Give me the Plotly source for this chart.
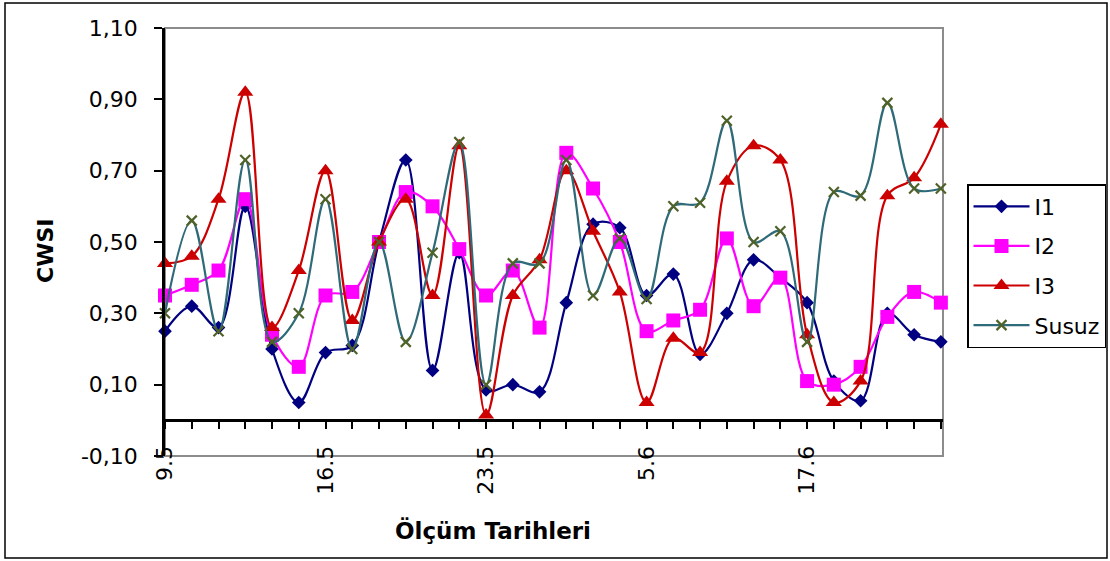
import plotly.graph_objects as go

# Measurement dates (category axis); only every sixth date is labelled
date_labels = ["9.5", "16.5", "23.5", "5.6", "17.6"]
label_positions = [0, 6, 12, 18, 24]
n_points = 30
x_idx = list(range(n_points))

i1 = [0.25, 0.32, 0.26, 0.60, 0.20, 0.05, 0.19, 0.21, 0.50, 0.73,
      0.14, 0.47, 0.085, 0.10, 0.08, 0.33, 0.55, 0.54, 0.35, 0.41,
      0.185, 0.30, 0.45, 0.40, 0.33, 0.11, 0.055, 0.30, 0.24, 0.22]
i2 = [0.35, 0.38, 0.42, 0.62, 0.24, 0.15, 0.35, 0.36, 0.50, 0.64,
      0.60, 0.48, 0.35, 0.42, 0.26, 0.75, 0.65, 0.50, 0.25, 0.28,
      0.31, 0.51, 0.32, 0.40, 0.11, 0.10, 0.15, 0.29, 0.36, 0.33]
i3 = [0.44, 0.46, 0.62, 0.92, 0.26, 0.42, 0.70, 0.28, 0.50, 0.62,
      0.35, 0.77, 0.015, 0.35, 0.45, 0.70, 0.53, 0.36, 0.05, 0.23,
      0.19, 0.67, 0.77, 0.73, 0.24, 0.05, 0.11, 0.63, 0.68, 0.83]
susuz = [0.30, 0.56, 0.25, 0.73, 0.22, 0.30, 0.62, 0.20, 0.50, 0.22,
         0.47, 0.78, 0.10, 0.44, 0.44, 0.73, 0.35, 0.51, 0.34, 0.60,
         0.61, 0.84, 0.50, 0.53, 0.22, 0.64, 0.63, 0.89, 0.65, 0.65]

y_tick_values = [-0.10, 0.10, 0.30, 0.50, 0.70, 0.90, 1.10]
y_tick_labels = ["-0,10", "0,10", "0,30", "0,50", "0,70", "0,90", "1,10"]

FONT = "DejaVu Sans, Liberation Sans, sans-serif"

# plot-area pixel box, used to place paper-referenced decorations
PX_L, PX_R, PX_T, PX_B = 165, 943, 28, 456


def px_x(px):
    return (px - PX_L) / (PX_R - PX_L)


def px_y(py):
    return (PX_B - py) / (PX_B - PX_T)


series = [
    ("I1", i1, "#000080", dict(symbol="diamond", size=10.5, color="#000080")),
    ("I2", i2, "#FF00FF", dict(symbol="square", size=14, color="#FF00FF")),
    ("I3", i3, "#CC0000", dict(symbol="triangle-up", size=14, color="#CC0000")),
    ("Susuz", susuz, "#2F6A78",
     dict(symbol="x-thin", size=10, color="#4F6228",
          line=dict(color="#4F6228", width=2.2))),
]

fig = go.Figure()
for name, vals, lcolor, marker in series:
    fig.add_trace(go.Scatter(
        x=x_idx, y=vals, name=name, mode="lines+markers",
        line=dict(color=lcolor, width=2.2, shape="spline", smoothing=1.0),
        marker=marker, legendgroup=name, cliponaxis=False,
    ))

tick_text = [""] * n_points
for pos, lab in zip(label_positions, date_labels):
    tick_text[pos] = lab

fig.update_layout(
    width=1110, height=561,
    margin=dict(l=PX_L, r=1110 - PX_R, t=PX_T, b=561 - PX_B, autoexpand=False),
    paper_bgcolor="white", plot_bgcolor="white",
    font=dict(family=FONT, size=22, color="black"),
    showlegend=True,
    legend=dict(
        x=px_x(967), y=px_y(184), xanchor="left", yanchor="top",
        bordercolor="black", borderwidth=1.5, bgcolor="white",
        font=dict(family=FONT, size=22), tracegroupgap=8,
        itemwidth=56,
    ),
    xaxis=dict(
        range=[0, 29.08], tickmode="array", tickvals=x_idx, ticktext=tick_text,
        tickangle=-90, showgrid=False, zeroline=False,
        showline=True, linecolor="black", linewidth=2.5,
        ticks="outside", ticklen=7, tickwidth=2, tickcolor="black",
        anchor="free", position=0.1 / 1.2, ticklabelstandoff=8,
        tickfont=dict(family=FONT, size=22),
    ),
    yaxis=dict(
        range=[-0.10, 1.10], tickmode="array", tickvals=y_tick_values,
        ticktext=y_tick_labels, showgrid=False, zeroline=False,
        showline=True, linecolor="black", linewidth=2.5,
        ticks="outside", ticklen=8, tickwidth=2, tickcolor="black",
        ticklabelstandoff=12,
        tickfont=dict(family=FONT, size=22),
    ),
    shapes=[
        # grey plot-area frame
        dict(type="rect", xref="paper", yref="paper", x0=0, x1=1, y0=0, y1=1,
             line=dict(color="#8C8C8C", width=2), layer="below"),
        # outer chart border
        dict(type="rect", xref="paper", yref="paper",
             x0=px_x(5), x1=px_x(1107), y0=px_y(558), y1=px_y(3),
             line=dict(color="black", width=1.5)),
    ],
    annotations=[
        dict(text="<b>CWSI</b>", xref="paper", yref="paper",
             x=px_x(46), y=px_y(251), xanchor="center", yanchor="middle",
             textangle=-90, showarrow=False,
             font=dict(family=FONT, size=22)),
        dict(text="<b>Ölçüm Tarihleri</b>", xref="paper", yref="paper",
             x=px_x(492.5), y=px_y(530), xanchor="center", yanchor="middle",
             showarrow=False, font=dict(family=FONT, size=23)),
    ],
)

fig.write_html("out.html")
